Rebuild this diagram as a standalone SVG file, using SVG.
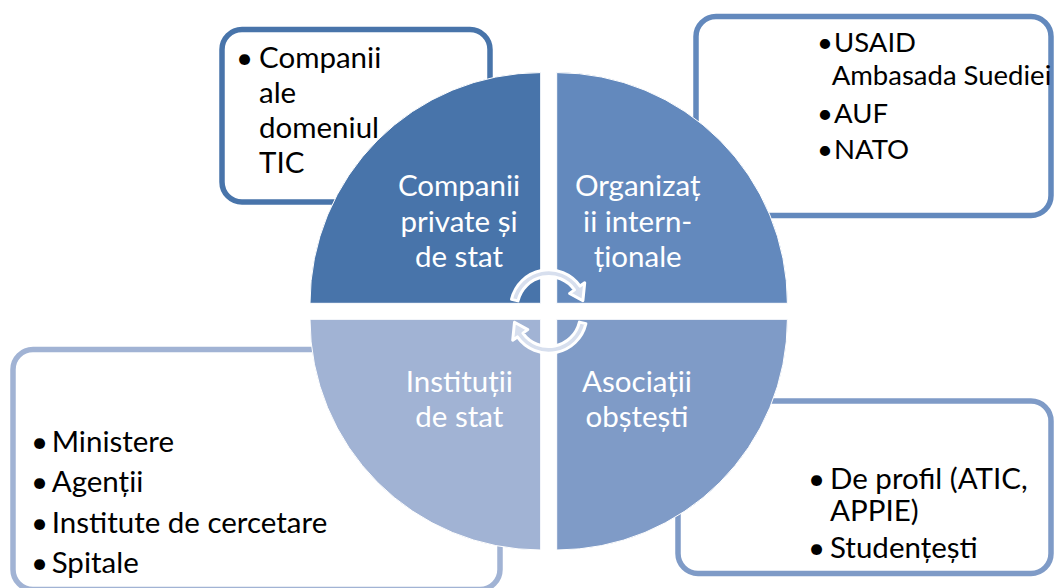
<svg xmlns="http://www.w3.org/2000/svg" width="1054" height="588" viewBox="0 0 1054 588">
<style>
.box{fill:#fff;stroke-width:5.5}
.t{font-family:Lato,"Liberation Sans","DejaVu Sans",sans-serif;font-size:29.5px;fill:#000}
.ts{font-family:Lato,"Liberation Sans","DejaVu Sans",sans-serif;font-size:27.5px;fill:#000}
.q{font-family:Lato,"Liberation Sans","DejaVu Sans",sans-serif;font-size:29.5px;fill:#fff;text-anchor:middle}
.quad{stroke:#fff;stroke-width:1}
.arr{fill:#D7DFEE;stroke:#fff;stroke-width:3;stroke-linejoin:round}
</style>
<defs>
<path id="carrow" d="M 511.5 299.4 A 38.2 38.2 0 0 1 580.0 286.1 L 584.7 282.8 L 582.9 300.7 L 569.6 293.4 L 574.5 289.9 A 31.5 31.5 0 0 0 518.0 300.9 Z"/>
</defs>
<rect width="1054" height="588" fill="#fff"/>

<g id="box-companii">
<rect class="box" x="222" y="29.5" width="268" height="172.5" rx="20" stroke="#4874AA"/>
<text class="t" x="236" y="68.3">•</text>
<text class="t" x="259" y="68.3">Companii</text>
<text class="t" x="259" y="103.3">ale</text>
<text class="t" x="259" y="138.3">domeniul</text>
<text class="t" x="259" y="173.3">TIC</text>
</g>

<g id="box-organizatii">
<rect class="box" x="696" y="16.5" width="355" height="199" rx="20" stroke="#6389BD"/>
<text class="ts" x="817" y="51.7">•</text>
<text class="ts" x="834" y="51.7">USAID</text>
<text class="ts" x="831.7" y="85">Ambasada Suediei</text>
<text class="ts" x="817" y="123.3">•</text>
<text class="ts" x="834" y="123.3">AUF</text>
<text class="ts" x="817" y="159">•</text>
<text class="ts" x="834" y="159">NATO</text>
</g>

<g id="box-institutii">
<rect class="box" x="13" y="349.5" width="487" height="240" rx="20" stroke="#A1B3D4"/>
<text class="t" x="31" y="451.7">•</text>
<text class="t" x="51.7" y="451.7">Ministere</text>
<text class="t" x="31" y="491.7">•</text>
<text class="t" x="51.7" y="491.7">Agenții</text>
<text class="t" x="31" y="533">•</text>
<text class="t" x="51.7" y="533">Institute de cercetare</text>
<text class="t" x="31" y="573">•</text>
<text class="t" x="51.7" y="573">Spitale</text>
</g>

<g id="box-asociatii">
<rect class="box" x="678" y="401" width="373" height="172.5" rx="20" stroke="#7F9BC7"/>
<text class="t" x="808" y="489">•</text>
<text class="t" x="830" y="489">De profil (ATIC,</text>
<text class="t" x="830" y="521">APPIE)</text>
<text class="t" x="808" y="558.3">•</text>
<text class="t" x="830" y="558.3">Studențești</text>
</g>

<g id="quad-companii">
<path class="quad" d="M 540.7 303.3 L 310 303.3 A 230.7 230.7 0 0 1 540.7 72.6 Z" fill="#4874AA"/>
<text class="q" x="459" y="196">Companii</text>
<text class="q" x="459" y="231.7">private și</text>
<text class="q" x="459" y="266.7">de stat</text>
</g>

<g id="quad-organizatii">
<path class="quad" d="M 556.7 303.3 L 556.7 72.6 A 230.7 230.7 0 0 1 787.4 303.3 Z" fill="#6389BD"/>
<text class="q" x="637.7" y="196">Organizaț</text>
<text class="q" x="637.7" y="231.7">ii intern-</text>
<text class="q" x="637.7" y="266.7">ționale</text>
</g>

<g id="quad-asociatii">
<path class="quad" d="M 556.7 319.3 L 787.4 319.3 A 230.7 230.7 0 0 1 556.7 550 Z" fill="#7F9BC7"/>
<text class="q" x="637" y="391.7">Asociații</text>
<text class="q" x="637" y="426.7">obștești</text>
</g>

<g id="quad-institutii">
<path class="quad" d="M 540.7 319.3 L 540.7 550 A 230.7 230.7 0 0 1 310 319.3 Z" fill="#A1B3D4"/>
<text class="q" x="459.3" y="391.7">Instituții</text>
<text class="q" x="459.3" y="426.7">de stat</text>
</g>

<g id="connectors">
<use href="#carrow" class="arr"/>
<use href="#carrow" class="arr" transform="rotate(180 548.7 311.5)"/>
</g>
</svg>
